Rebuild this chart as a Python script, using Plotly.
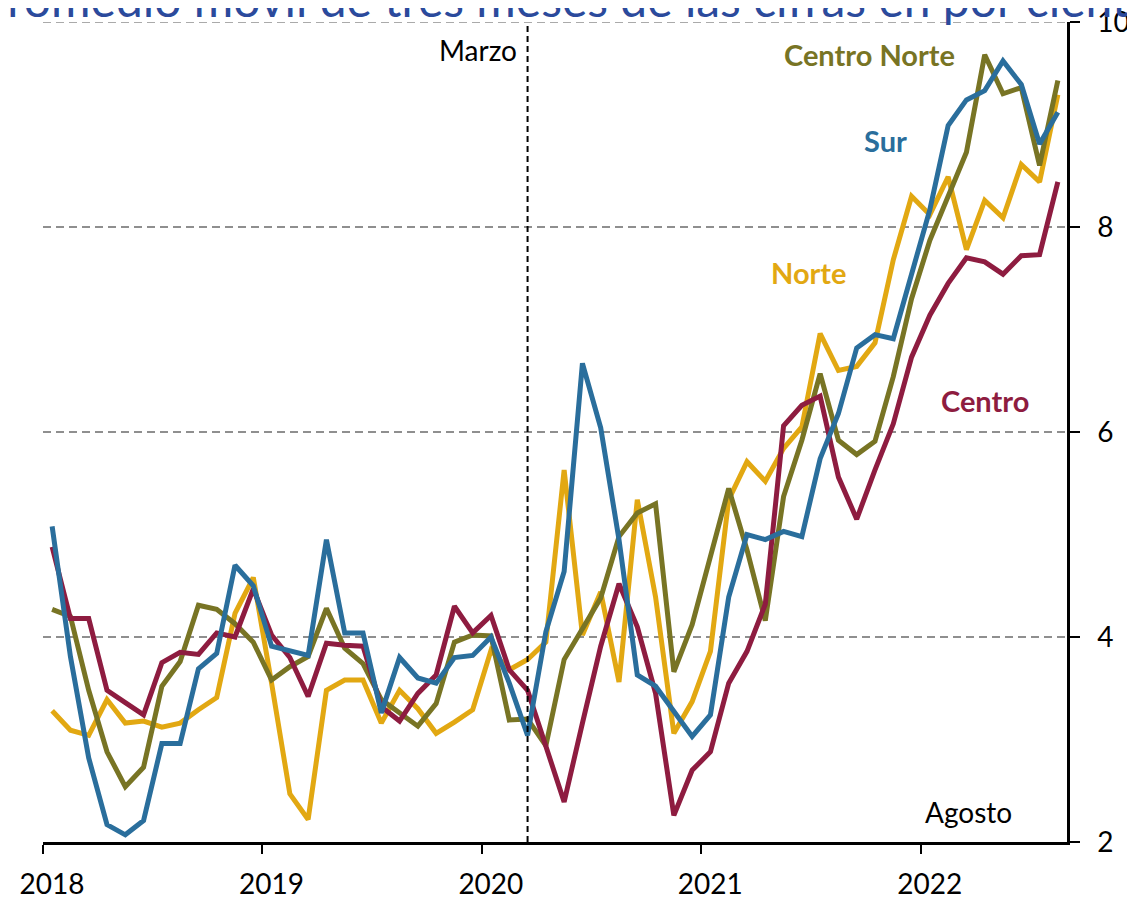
import plotly.graph_objects as go

# Monthly index: 0 = Jan 2018 ... 55 = Aug 2022
months = list(range(56))
year_labels = ["2018", "2019", "2020", "2021", "2022"]
year_ticks = [-0.5, 11.5, 23.5, 35.5, 47.5]

centro_norte = [4.27, 4.20, 3.48, 2.88, 2.54, 2.73, 3.52, 3.76, 4.31, 4.27, 4.13, 3.95,
                3.58, 3.71, 3.81, 4.28, 3.89, 3.74, 3.39, 3.26, 3.13, 3.35, 3.95, 4.02,
                4.01, 3.19, 3.20, 2.94, 3.78, 4.08, 4.38, 4.98, 5.21, 5.30, 3.66, 4.12,
                4.78, 5.45, 4.85, 4.16, 5.37, 5.92, 6.57, 5.92, 5.78, 5.91, 6.54, 7.30,
                7.87, 8.30, 8.73, 9.68, 9.30, 9.36, 8.60, 9.43]
sur = [5.08, 3.81, 2.82, 2.17, 2.07, 2.21, 2.96, 2.96, 3.69, 3.84, 4.70, 4.50,
       3.91, 3.87, 3.82, 4.95, 4.04, 4.04, 3.26, 3.80, 3.60, 3.55, 3.80, 3.82,
       4.00, 3.55, 3.04, 4.05, 4.64, 6.67, 6.04, 4.95, 3.63, 3.52, 3.27, 3.03,
       3.24, 4.39, 5.00, 4.95, 5.03, 4.98, 5.74, 6.18, 6.82, 6.95, 6.91, 7.52,
       8.17, 8.99, 9.24, 9.33, 9.62, 9.39, 8.81, 9.12]
norte = [3.28, 3.09, 3.04, 3.39, 3.16, 3.18, 3.12, 3.16, 3.29, 3.41, 4.23, 4.58,
         3.55, 2.47, 2.22, 3.48, 3.58, 3.58, 3.16, 3.48, 3.30, 3.06, 3.17, 3.29,
         3.87, 3.68, 3.78, 3.95, 5.63, 4.02, 4.44, 3.56, 5.34, 4.39, 3.06, 3.37,
         3.86, 5.34, 5.71, 5.52, 5.84, 6.05, 6.96, 6.60, 6.64, 6.87, 7.68, 8.30,
         8.12, 8.49, 7.78, 8.26, 8.09, 8.61, 8.44, 9.29]
centro = [4.88, 4.18, 4.18, 3.48, 3.36, 3.24, 3.75, 3.85, 3.83, 4.04, 4.00, 4.47,
          4.02, 3.80, 3.42, 3.94, 3.92, 3.91, 3.32, 3.18, 3.45, 3.63, 4.30, 4.04,
          4.21, 3.68, 3.48, 2.92, 2.39, 3.16, 3.91, 4.52, 4.10, 3.45, 2.26, 2.70,
          2.88, 3.55, 3.86, 4.32, 6.06, 6.26, 6.35, 5.56, 5.15, 5.63, 6.08, 6.73,
          7.14, 7.45, 7.70, 7.66, 7.54, 7.72, 7.73, 8.44]

C_OLIVE = "#787424"
C_BLUE = "#2A6E9C"
C_GOLD = "#E2A812"
C_MAROON = "#8E1C40"
FONT = "Lato"

fig = go.Figure()
for name, ys, col in [("Norte", norte, C_GOLD), ("Centro Norte", centro_norte, C_OLIVE),
                      ("Centro", centro, C_MAROON), ("Sur", sur, C_BLUE)]:
    fig.add_trace(go.Scatter(x=months, y=ys, mode="lines", name=name,
                             line=dict(color=col, width=5), showlegend=False))

# top gridline at 10
fig.add_shape(type="line", x0=0, x1=1, xref="paper", y0=10, y1=10, yref="y",
              line=dict(color="#8f8f8f", width=1.5, dash="8px,5px"), layer="below")

# March 2020 marker line
fig.add_shape(type="line", x0=26, x1=26, xref="x", y0=0, y1=1, yref="paper",
              line=dict(color="black", width=2, dash="6px,4px"))

series_labels = [("Centro Norte", 44.7, 9.68, C_OLIVE), ("Sur", 45.6, 8.84, C_BLUE),
                 ("Norte", 41.4, 7.56, C_GOLD), ("Centro", 51.0, 6.31, C_MAROON)]
for txt, x, y, col in series_labels:
    fig.add_annotation(x=x, y=y, text=f"<b>{txt}</b>", showarrow=False,
                       font=dict(family=FONT, size=29, color=col))

fig.add_annotation(x=26, y=9.73, text="Marzo", showarrow=False, xanchor="right", xshift=-9,
                   font=dict(family=FONT, size=28, color="black"))
fig.add_annotation(x=50.1, y=2.29, text="Agosto", showarrow=False,
                   font=dict(family=FONT, size=28, color="black"))

# Title (partially cut off at the top, as in the source)
fig.add_annotation(xref="paper", yref="paper", x=0, y=1, xanchor="left", yanchor="bottom",
                   xshift=-66, yshift=-7,
                   text="Promedio móvil de tres meses de las cifras en por ciento",
                   showarrow=False, font=dict(family=FONT, size=48, color="#2B4A9C"))

fig.update_layout(
    width=1135, height=897,
    margin=dict(l=35, r=76, t=14, b=63, autoexpand=False),
    paper_bgcolor="white", plot_bgcolor="white",
    font=dict(family=FONT, size=28, color="black"),
    xaxis=dict(range=[-0.5, 55.5], tickvals=year_ticks, ticktext=year_labels,
               ticks="outside", ticklen=9, tickwidth=2, tickcolor="black",
               showline=True, linecolor="black", linewidth=2.5, automargin=False,
               showgrid=False, zeroline=False, ticklabelshift=9, ticklabelstandoff=7,
               ticklabeloverflow="allow", tickfont=dict(family=FONT, size=28)),
    yaxis=dict(range=[2, 10], side="right", tickvals=[2, 4, 6, 8, 10],
               ticks="outside", ticklen=10, tickwidth=2, tickcolor="black",
               showline=True, linecolor="black", linewidth=2.5, automargin=False,
               showgrid=True, gridcolor="#8f8f8f", gridwidth=1.5, griddash="8px,5px",
               zeroline=False, ticklabelstandoff=12, ticklabeloverflow="allow",
               tickfont=dict(family=FONT, size=28)),
)

fig.write_html("out.html")
